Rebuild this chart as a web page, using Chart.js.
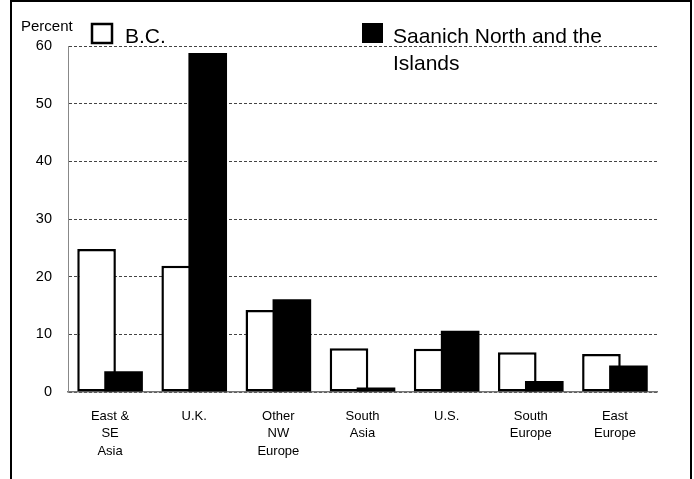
<!DOCTYPE html>
<html>
<head>
<meta charset="utf-8">
<script src="https://cdn.jsdelivr.net/npm/chart.js@4.4.0/dist/chart.umd.min.js"></script>
<style>
  html, body { margin: 0; padding: 0; background: #fff; }
  #wrap { width: 694px; height: 479px; }
</style>
</head>
<body>
<div id="wrap"><canvas id="chart" width="694" height="479"></canvas></div>
<script>
// Place of birth of immigrants: B.C. vs Saanich North and the Islands (percent)
const categories = [
    ['East &', 'SE', 'Asia'],
    'U.K.',
    ['Other', 'NW', 'Europe'],
    ['South', 'Asia'],
    'U.S.',
    ['South', 'Europe'],
    ['East', 'Europe'],
];
const bcValues = [24.8, 21.9, 14.2, 7.6, 7.5, 6.9, 6.6];
const saanichValues = [3.6, 58.8, 16.1, 0.8, 10.6, 1.9, 4.6];
const yTicks = [0, 10, 20, 30, 40, 50, 60];
const seriesNames = ['B.C.', 'Saanich North and the Islands'];
const axisTitle = 'Percent';

const FONT = '"Liberation Sans", Arial, sans-serif';

// black bars sit on top of the white ones where they overlap
const blackOnTop = {
    id: 'blackOnTop',
    beforeDatasetsDraw(chart) {
        chart.getDatasetMeta(0).controller.draw();
    },
    beforeDatasetDraw(chart, args) {
        if (args.index === 0) return false;
    },
};

// frame, "Percent" label and the two-item legend
const decorations = {
    id: 'decorations',
    afterDraw(chart) {
        const ctx = chart.ctx;
        ctx.save();

        ctx.strokeStyle = '#000';
        ctx.lineWidth = 2;
        ctx.beginPath();
        ctx.moveTo(11, 480);
        ctx.lineTo(11, 1);
        ctx.lineTo(691, 1);
        ctx.lineTo(691, 480);
        ctx.stroke();

        ctx.fillStyle = '#000';
        ctx.textBaseline = 'alphabetic';
        ctx.textAlign = 'left';
        ctx.font = '15px ' + FONT;
        ctx.fillText(axisTitle, 21, 31);

        const spots = [{ box: 92, text: 125 }, { box: 362, text: 393 }];
        ctx.font = '21px ' + FONT;
        chart.data.datasets.forEach((ds, i) => {
            const s = spots[i];
            if (ds.backgroundColor === '#ffffff') {
                ctx.fillStyle = '#fff';
                ctx.fillRect(s.box, 24, 20, 19);
                ctx.lineWidth = 2.5;
                ctx.strokeStyle = '#000';
                ctx.strokeRect(s.box, 24, 20, 19);
            } else {
                ctx.fillStyle = '#000';
                ctx.fillRect(s.box, 23, 21, 20);
            }
            ctx.fillStyle = '#000';
            // simple word wrap
            const words = ds.label.split(' ');
            const lines = [];
            let cur = '';
            words.forEach(w => {
                const test = cur ? cur + ' ' + w : w;
                if (ctx.measureText(test).width > 235 && cur) {
                    lines.push(cur);
                    cur = w;
                } else {
                    cur = test;
                }
            });
            lines.push(cur);
            lines.forEach((ln, j) => ctx.fillText(ln, s.text, 43 + j * 27));
        });

        ctx.restore();
    },
};

new Chart(document.getElementById('chart').getContext('2d'), {
    type: 'bar',
    data: {
        labels: categories,
        datasets: [
            {
                label: seriesNames[0],
                data: bcValues,
                backgroundColor: '#ffffff',
                borderColor: '#000000',
                borderWidth: 2.5,
                borderSkipped: false,
            },
            {
                label: seriesNames[1],
                data: saanichValues,
                backgroundColor: '#000000',
                borderWidth: 0,
            },
        ],
    },
    options: {
        responsive: false,
        animation: false,
        devicePixelRatio: 1,
        categoryPercentage: 0.642,
        barPercentage: 1.43,
        layout: { padding: { left: 10, right: 37, top: 46, bottom: 0 } },
        plugins: {
            legend: { display: false },
            tooltip: { enabled: false },
        },
        scales: {
            x: {
                grid: { display: false, drawTicks: false, tickLength: 0 },
                border: { display: true, color: '#777', width: 1.5 },
                ticks: {
                    color: '#000',
                    padding: 15,
                    maxRotation: 0,
                    autoSkip: false,
                    font: { family: FONT, size: 13, lineHeight: 1.38 },
                },
                afterFit(scale) { scale.height = 87; },
            },
            y: {
                min: yTicks[0],
                max: yTicks[yTicks.length - 1],
                grid: { color: '#444', lineWidth: 1, drawTicks: false, tickLength: 0 },
                border: { display: true, color: '#888', width: 1, dash: [3, 2] },
                ticks: {
                    stepSize: yTicks[1] - yTicks[0],
                    color: '#000',
                    padding: 16,
                    font: { family: FONT, size: 14.5 },
                },
                afterFit(scale) { scale.width = 58; },
            },
        },
    },
    plugins: [blackOnTop, decorations],
});
</script>
</body>
</html>
